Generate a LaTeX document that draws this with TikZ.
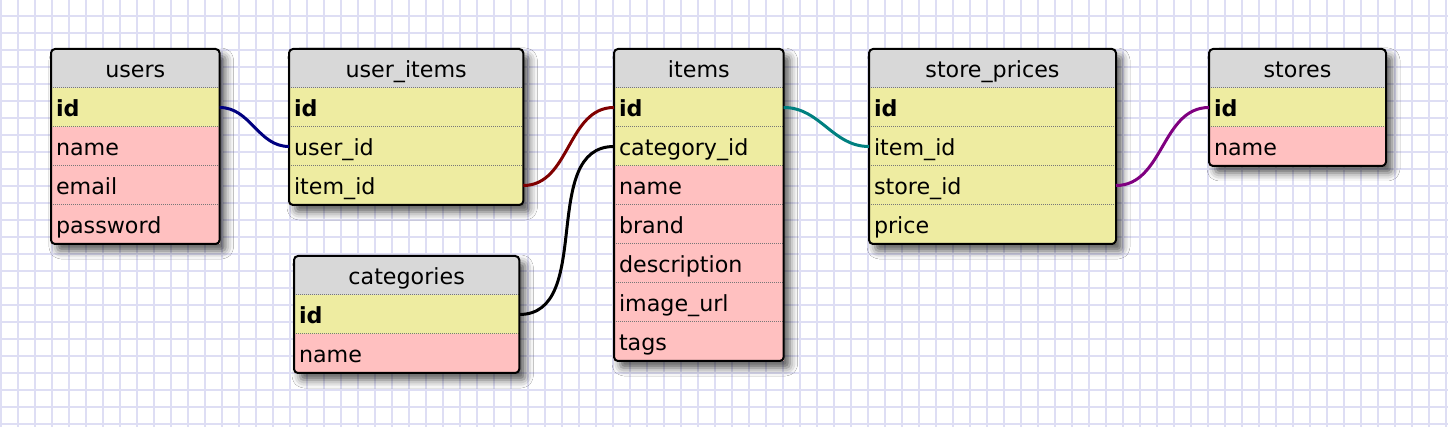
\documentclass[tikz,border=0pt]{standalone}
\usepackage{fontspec}
\setmainfont{DejaVu Sans}
\usetikzlibrary{positioning,fit,backgrounds,shadows.blur}

\definecolor{gridcol}{RGB}{222,222,244}
\definecolor{hdrgray}{RGB}{216,216,216}
\definecolor{keyyellow}{RGB}{238,236,161}
\definecolor{fieldpink}{RGB}{255,192,192}
\definecolor{sepgray}{RGB}{120,120,120}
\definecolor{linknavy}{RGB}{0,0,128}
\definecolor{linkred}{RGB}{128,0,0}
\definecolor{linkteal}{RGB}{0,128,128}
\definecolor{linkpurple}{RGB}{128,0,128}

\tikzset{
  field/.style={minimum height=19.5pt, inner xsep=2.5pt, inner ysep=0pt, outer sep=0pt,
    text height=11pt, text depth=2.1pt, align=left, font=\fontsize{11.1pt}{13pt}\selectfont},
  hdr/.style={field, fill=hdrgray, align=center},
  keyrow/.style={field, fill=keyyellow},
  fieldrow/.style={field, fill=fieldpink},
  sepline/.style={draw=sepgray, line width=0.5pt, dash pattern=on 0.5pt off 0.5pt},
  gridrule/.style={draw=gridcol, line width=1pt},
  tablebox/.style={draw, line width=1pt, rounded corners=2pt, inner sep=0pt, outer sep=0pt},
  tableshadow/.style={fill=white, inner sep=0pt, rounded corners=2pt,
    blur shadow={shadow xshift=3pt, shadow yshift=-3.5pt, shadow blur radius=4pt, shadow opacity=65}},
  link/.style={line width=1.5pt, out=0, in=180},
}

\begin{document}
\begin{tikzpicture}[x=0.5pt, y=-0.5pt]
  \useasboundingbox (0,0) rectangle (1448,427);

  % squared paper
  \begin{scope}[on background layer]
    \fill[white] (0,0) rectangle (1448,427);
    \foreach \gx in {0,...,85}
      \draw[gridrule] ({0.7+17*\gx},0) -- ({0.7+17*\gx},427);
    \foreach \gy in {0,...,24}
      \draw[gridrule] (0,{15.7+17*\gy}) -- (1448,{15.7+17*\gy});
  \end{scope}

  % users
  \begin{scope}[every node/.append style={text width=79.3pt}]
    \path (51,49) node[hdr, anchor=north west] (users) {users};
    \path node[keyrow, below=0pt of users] (users-id) {\textbf{id}};
    \path node[fieldrow, below=0pt of users-id] (users-name) {name};
    \path node[fieldrow, below=0pt of users-name] (users-email) {email};
    \path node[fieldrow, below=0pt of users-email] (users-pw) {password};
  \end{scope}

  % user_items
  \begin{scope}[every node/.append style={text width=112.15pt}]
    \path (289,49) node[hdr, anchor=north west] (useritems) {user\_items};
    \path node[keyrow, below=0pt of useritems] (useritems-id) {\textbf{id}};
    \path node[keyrow, below=0pt of useritems-id] (useritems-userid) {user\_id};
    \path node[keyrow, below=0pt of useritems-userid] (useritems-itemid) {item\_id};
  \end{scope}

  % items
  \begin{scope}[every node/.append style={text width=79.85pt}]
    \path (614,49) node[hdr, anchor=north west] (items) {items};
    \path node[keyrow, below=0pt of items] (items-id) {\textbf{id}};
    \path node[keyrow, below=0pt of items-id] (items-catid) {category\_id};
    \path node[fieldrow, below=0pt of items-catid] (items-name) {name};
    \path node[fieldrow, below=0pt of items-name] (items-brand) {brand};
    \path node[fieldrow, below=0pt of items-brand] (items-desc) {description};
    \path node[fieldrow, below=0pt of items-desc] (items-img) {image\_url};
    \path node[fieldrow, below=0pt of items-img] (items-tags) {tags};
  \end{scope}

  % categories
  \begin{scope}[every node/.append style={text width=107.65pt}]
    \path (294,256) node[hdr, anchor=north west] (categories) {categories};
    \path node[keyrow, below=0pt of categories] (categories-id) {\textbf{id}};
    \path node[fieldrow, below=0pt of categories-id] (categories-name) {name};
  \end{scope}

  % store_prices
  \begin{scope}[every node/.append style={text width=118.5pt}]
    \path (869,49) node[hdr, anchor=north west] (prices) {store\_prices};
    \path node[keyrow, below=0pt of prices] (prices-id) {\textbf{id}};
    \path node[keyrow, below=0pt of prices-id] (prices-itemid) {item\_id};
    \path node[keyrow, below=0pt of prices-itemid] (prices-storeid) {store\_id};
    \path node[keyrow, below=0pt of prices-storeid] (prices-price) {price};
  \end{scope}

  % stores
  \begin{scope}[every node/.append style={text width=83.5pt}]
    \path (1209,49) node[hdr, anchor=north west] (stores) {stores};
    \path node[keyrow, below=0pt of stores] (stores-id) {\textbf{id}};
    \path node[fieldrow, below=0pt of stores-id] (stores-name) {name};
  \end{scope}

  % dotted lines between the rows
  \foreach \r in {users,users-id,users-name,users-email,
      useritems,useritems-id,useritems-userid,
      items,items-id,items-catid,items-name,items-brand,items-desc,items-img,
      categories,categories-id,
      prices,prices-id,prices-itemid,prices-storeid,
      stores,stores-id}
    \draw[sepline] (\r.south west) -- (\r.south east);

  % frames and shadows
  \begin{scope}[on background layer]
    \foreach \t/\last in {users/users-pw,useritems/useritems-itemid,items/items-tags,
        categories/categories-name,prices/prices-price,stores/stores-name}
      \node[tableshadow, fit=(\t)(\last)] {};
  \end{scope}
  \foreach \t/\last in {users/users-pw,useritems/useritems-itemid,items/items-tags,
      categories/categories-name,prices/prices-price,stores/stores-name}
    \node[tablebox, fit=(\t)(\last)] (\t-box) {};

  % relations
  \draw[link, linknavy] (users-id.east) to (useritems-userid.west);
  \draw[link, linkred] (useritems-itemid.east) to (items-id.west);
  \draw[link, black] (categories-id.east) to (items-catid.west);
  \draw[link, linkteal] (items-id.east) to (prices-itemid.west);
  \draw[link, linkpurple] (prices-storeid.east) to (stores-id.west);
\end{tikzpicture}
\end{document}
